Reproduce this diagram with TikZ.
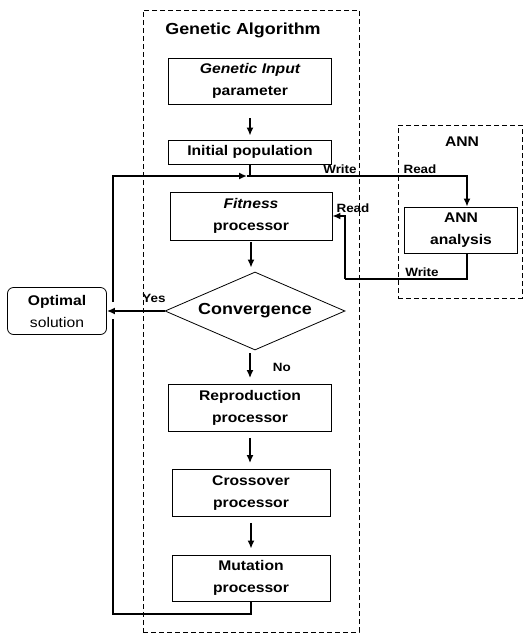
\documentclass[tikz,border=0pt]{standalone}
\usepackage{fontspec}
\setmainfont{Liberation Sans}[FakeStretch=1.12]
\usetikzlibrary{shapes.geometric,arrows.meta}

\begin{document}
\begin{tikzpicture}[x=1pt, y=-1pt,
  procbox/.style={draw, rectangle, line width=0.8pt, inner sep=0pt, align=center,
    font=\fontsize{14}{22}\selectfont\bfseries},
  frame/.style={draw, rectangle, line width=0.8pt, dash pattern=on 5pt off 3pt, inner sep=0pt},
  flow/.style={line width=1.6pt, -{Latex[length=8pt, width=7pt]}},
  loopline/.style={line width=1.6pt},
  lbl/.style={font=\fontsize{12}{14}\selectfont\bfseries, inner sep=0pt}]

\useasboundingbox (0,0) rectangle (523,633);

% frames, genetic algorithm and ann
\node[frame, minimum width=216pt, minimum height=622pt] at (251, 321) (gaframe) {};
\node[frame, minimum width=124pt, minimum height=173pt] at (460, 211.5) (annframe) {};
\node at (243, 30) (gatitle) {\fontsize{16}{18}\selectfont\bfseries Genetic Algorithm};
\node at (462, 142) (anntitle) {\fontsize{14}{18}\selectfont\bfseries ANN};

% ga steps
\node[procbox, minimum width=163pt, minimum height=46pt] at (250,  81) (input) {\itshape Genetic Input\\parameter};
\node[procbox, minimum width=163pt, minimum height=24pt] at (250, 152) (init) {Initial population};
\node[procbox, minimum width=162pt, minimum height=48pt] at (251, 216) (fitness) {\itshape Fitness\\processor};
\node[draw, diamond, line width=0.8pt, aspect=2.3, inner sep=0pt, minimum width=180pt, minimum height=78pt] at (255, 311) (conv) {\fontsize{16}{18}\selectfont\bfseries Convergence};
\node[procbox, minimum width=163pt, minimum height=47pt] at (250, 408) (repro) {Reproduction\\processor};
\node[procbox, minimum width=158pt, minimum height=47pt] at (251, 493) (cross) {Crossover\\processor};
\node[procbox, minimum width=158pt, minimum height=46pt] at (251, 578) (mut) {Mutation\\processor};

% result and ann
\node[draw, rectangle, rounded corners=6pt, line width=0.8pt, inner sep=0pt, align=center,
  minimum width=99pt, minimum height=47pt, font=\fontsize{14}{22}\selectfont] at (57, 311) (opt) {\bfseries Optimal\\solution};
\node[procbox, minimum width=113pt, minimum height=46pt] at (461, 230) (ann) {ANN\\analysis};

% main flow
\draw[flow, shorten <=14pt, shorten >=4pt] (input.south) -- (input.south |- init.north);
\draw[flow, shorten <=2pt, shorten >=4pt] (fitness.south) -- (fitness.south |- conv.north);
\draw[flow, shorten <=3pt, shorten >=6pt] (repro.north |- conv.south) -- (repro.north) node[pos=0.5, right=22pt, lbl] {No};
\draw[flow, shorten <=6pt, shorten >=6pt] (repro.south) -- (repro.south |- cross.north);
\draw[flow, shorten <=6pt, shorten >=6pt] (cross.south) -- (mut.north);
\draw[flow] (conv.west) -- (opt.east);
\node[lbl] at (154, 298) (yes) {Yes};

% loop back
\coordinate (lpb) at (113, 614);
\coordinate (lpgapb) at (113, 319);
\coordinate (lpgapt) at (113, 302);
\coordinate (lpt) at (113, 176);
\coordinate (jn) at (247, 176);
\coordinate (annin) at (467, 176);
\draw[loopline] (mut.south) |- (lpb) -- (lpgapb);
\draw[loopline, -{Latex[length=8pt, width=7pt]}] (lpgapt) -- (lpt) -- (jn);
\draw[loopline] (init.south) -- (init.south |- lpt);
\draw[flow] (jn) -- (annin) -- (annin |- ann.north);
\node[lbl] at (340, 169) (write1) {Write};
\node[lbl] at (420, 169) (read1) {Read};

% ann result back to fitness
\coordinate (annout) at (467, 279);
\coordinate (rdb) at (345, 279);
\draw[loopline] (annout |- ann.south) -- (annout) -- (rdb);
\draw[flow] (rdb) |- (fitness.east);
\node[lbl] at (353, 208) (read2) {Read};
\node[lbl] at (422, 272) (write2) {Write};

\end{tikzpicture}
\end{document}
